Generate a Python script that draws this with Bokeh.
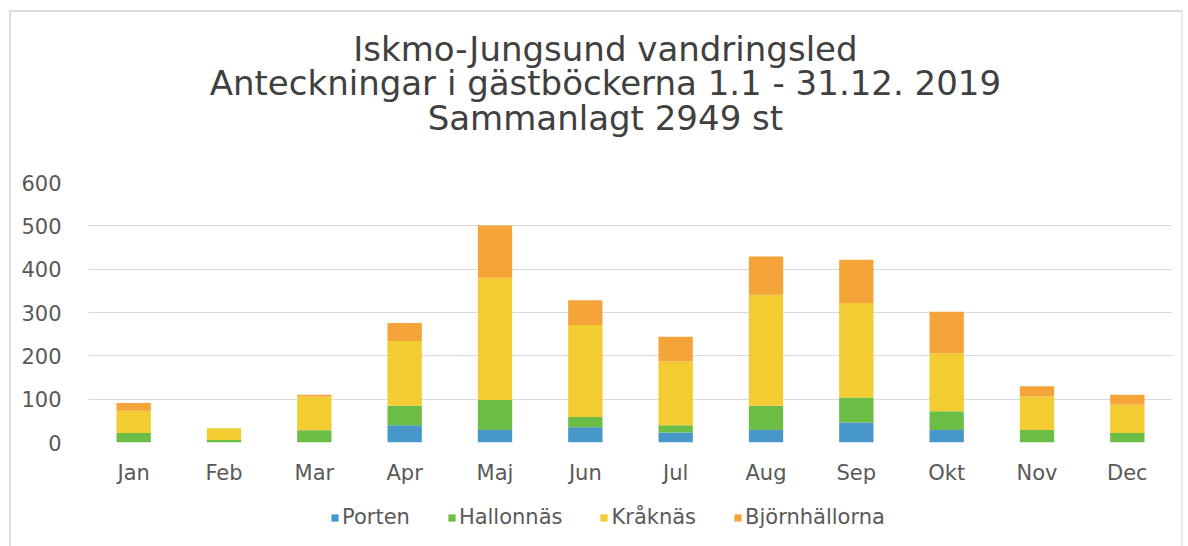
from bokeh.plotting import figure
from bokeh.layouts import column
from bokeh.models import Range1d, FactorRange, Legend, LegendItem, ColumnDataSource, Label
from bokeh.embed import file_html
from bokeh.resources import INLINE

months = ["Jan", "Feb", "Mar", "Apr", "Maj", "Jun", "Jul", "Aug", "Sep", "Okt", "Nov", "Dec"]
series = ["Porten", "Hallonnäs", "Kråknäs", "Björnhällorna"]
porten = [0, 0, 0, 40, 29, 35, 23, 29, 46, 29, 0, 0]
hallonnas = [22, 6, 28, 45, 69, 24, 17, 56, 58, 43, 29, 22]
kraknas = [51, 27, 78, 149, 282, 212, 147, 256, 218, 134, 77, 65]
bjornhallorna = [18, 0, 4, 42, 121, 57, 57, 88, 100, 96, 24, 23]
colors = ["#4797cb", "#6cbd45", "#f2cc30", "#f5a43a"]
title_lines = ["Iskmo-Jungsund vandringsled",
               "Anteckningar i gästböckerna 1.1 - 31.12. 2019",
               "Sammanlagt 2949 st"]
y_ticks = [0, 100, 200, 300, 400, 500, 600]

FONT = "DejaVu Sans"
W = 1174
BORDER = "2px solid #dcdcdc"
BORDER_R = "2px solid #ececec"

# ---- header with the three title lines ----
HH = 160
head = figure(width=W, height=HH, x_range=Range1d(88, 1168), y_range=Range1d(0, HH - 2),
              x_axis_type=None, y_axis_type=None, output_backend="svg",
              toolbar_location=None, min_border=0)
head.title = None
head.grid.visible = False
head.outline_line_color = None
head.styles = {"border-left": BORDER, "border-top": BORDER, "border-right": BORDER_R}
for t, yv in zip(title_lines, [122, 88, 54]):
    head.add_layout(Label(x=603, y=yv, text=t, text_align="center", text_baseline="middle",
                          text_font=FONT, text_font_size="34px", text_color="#404040"))

# ---- main chart ----
source = ColumnDataSource(dict(months=months, Porten=porten, Hallonnäs=hallonnas,
                               Kråknäs=kraknas, Björnhällorna=bjornhallorna))

p = figure(x_range=FactorRange(*months), y_range=Range1d(0, 600),
           width=W, height=320, output_backend="svg", toolbar_location=None,
           min_border_left=77, min_border_right=13, min_border_top=12, min_border_bottom=48)
p.title = None
p.styles = {"border-left": BORDER, "border-right": BORDER_R}

p.vbar_stack(series, x="months", width=0.38, color=colors, source=source, line_color=None)

p.outline_line_color = None
p.xgrid.grid_line_color = None
p.ygrid.grid_line_color = "#d9d9d9"
p.ygrid.grid_line_width = 1
p.yaxis.ticker = y_ticks
for ax in (p.xaxis[0], p.yaxis[0]):
    ax.axis_line_color = None
    ax.major_tick_line_color = None
    ax.minor_tick_line_color = None
    ax.major_label_text_font = FONT
    ax.major_label_text_font_size = "21px"
    ax.major_label_text_color = "#595959"
p.yaxis.major_label_standoff = 21
p.xaxis.major_label_standoff = 12
p.x_range.range_padding = 0

# ---- legend strip ----
LH = 56
leg = figure(width=W, height=LH, x_range=Range1d(88, 1168), y_range=Range1d(0, LH),
             x_axis_type=None, y_axis_type=None, output_backend="svg",
             toolbar_location=None, min_border=0)
leg.title = None
leg.grid.visible = False
leg.outline_line_color = None
leg.styles = {"border-left": BORDER, "border-right": BORDER_R}
items = []
for s, c in zip(series, colors):
    # off-screen stand-in so the legend can draw its colour swatch
    r = leg.vbar(x=[-1000], top=[-10], width=1, color=c, line_color=None)
    items.append(LegendItem(label=s, renderers=[r]))
legend = Legend(items=items, orientation="horizontal", location=(242, 17),
                label_text_font=FONT, label_text_font_size="21px",
                label_text_color="#595959", glyph_width=9, glyph_height=9,
                spacing=37, padding=0, margin=0, label_standoff=3,
                background_fill_alpha=0, border_line_color=None)
leg.add_layout(legend, "center")

layout = column(head, p, leg, spacing=0)
layout.styles = {"margin-left": "9px", "margin-top": "10px"}
open("out.html", "w").write(file_html(layout, INLINE))
